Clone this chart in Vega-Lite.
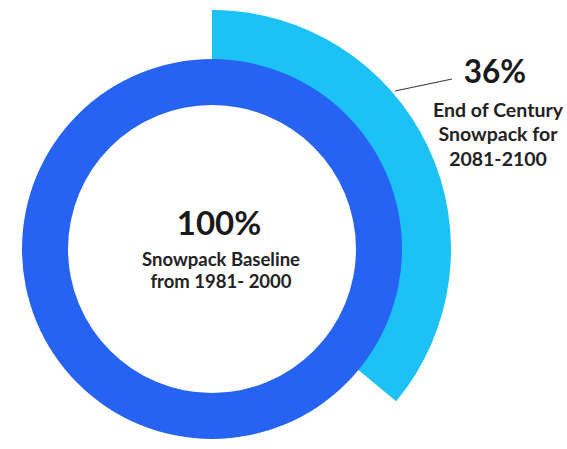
{
  "$schema": "https://vega.github.io/schema/vega-lite/v6.json",
  "width": 567,
  "height": 449,
  "autosize": {"type": "fit", "contains": "padding"},
  "padding": 0,
  "background": "white",
  "config": {"view": {"stroke": null}, "font": "Lato"},
  "data": {
    "values": [
      {"period": "1981-2000", "share": 1.0, "desc": "Snowpack Baseline\nfrom 1981- 2000"},
      {"period": "2081-2100", "share": 0.36, "desc": "End of Century\nSnowpack for\n2081-2100"}
    ]
  },
  "encoding": {},
  "layer": [
    {
      "transform": [{"filter": "datum.period === '2081-2100'"}],
      "mark": {"type": "arc", "radius": 239, "radius2": 188},
      "encoding": {
        "x": {"datum": 212, "type": "quantitative", "scale": {"domain": [0, 567], "nice": false, "zero": false}, "axis": null},
        "y": {"datum": 249, "type": "quantitative", "scale": {"domain": [0, 449], "nice": false, "zero": false, "reverse": true}, "axis": null},
        "theta": {"field": "share", "type": "quantitative", "scale": {"domain": [0, 1]}},
        "color": {"field": "period", "type": "nominal", "scale": {"domain": ["1981-2000", "2081-2100"], "range": ["#2663F2", "#1CC2F6"]}, "legend": null}
      }
    },
    {
      "transform": [{"filter": "datum.period === '1981-2000'"}],
      "mark": {"type": "arc", "radius": 190, "radius2": 144},
      "encoding": {
        "x": {"datum": 212, "type": "quantitative"},
        "y": {"datum": 249, "type": "quantitative"},
        "theta": {"field": "share", "type": "quantitative"},
        "color": {"field": "period", "type": "nominal", "legend": null}
      }
    },
    {
      "transform": [{"filter": "datum.period === '2081-2100'"}],
      "mark": {"type": "rule", "color": "#3a3a3a", "strokeWidth": 1.2},
      "encoding": {
        "x": {"datum": 395, "type": "quantitative"},
        "y": {"datum": 91, "type": "quantitative"},
        "x2": {"datum": 452},
        "y2": {"datum": 79}
      }
    },
    {
      "transform": [{"filter": "datum.period === '1981-2000'"}],
      "mark": {"type": "text", "font": "Lato", "fontWeight": "bold", "fontSize": 33, "color": "#1a1a1a", "align": "center", "baseline": "alphabetic"},
      "encoding": {
        "x": {"datum": 219, "type": "quantitative"},
        "y": {"datum": 235, "type": "quantitative"},
        "text": {"field": "share", "type": "quantitative", "format": ".0%"}
      }
    },
    {
      "transform": [{"filter": "datum.period === '1981-2000'"}],
      "mark": {"type": "text", "font": "Lato", "fontWeight": "bold", "fontSize": 18.5, "color": "#222222", "align": "center", "baseline": "alphabetic", "lineBreak": "\n", "lineHeight": 21.5},
      "encoding": {
        "x": {"datum": 221, "type": "quantitative"},
        "y": {"datum": 266, "type": "quantitative"},
        "text": {"field": "desc", "type": "nominal"}
      }
    },
    {
      "transform": [{"filter": "datum.period === '2081-2100'"}],
      "mark": {"type": "text", "font": "Lato", "fontWeight": "bold", "fontSize": 31.5, "color": "#1a1a1a", "align": "center", "baseline": "alphabetic"},
      "encoding": {
        "x": {"datum": 495, "type": "quantitative"},
        "y": {"datum": 83, "type": "quantitative"},
        "text": {"field": "share", "type": "quantitative", "format": ".0%"}
      }
    },
    {
      "transform": [{"filter": "datum.period === '2081-2100'"}],
      "mark": {"type": "text", "font": "Lato", "fontWeight": "bold", "fontSize": 19.5, "color": "#222222", "align": "center", "baseline": "alphabetic", "lineBreak": "\n", "lineHeight": 24.4},
      "encoding": {
        "x": {"datum": 498, "type": "quantitative"},
        "y": {"datum": 117, "type": "quantitative"},
        "text": {"field": "desc", "type": "nominal"}
      }
    }
  ]
}
